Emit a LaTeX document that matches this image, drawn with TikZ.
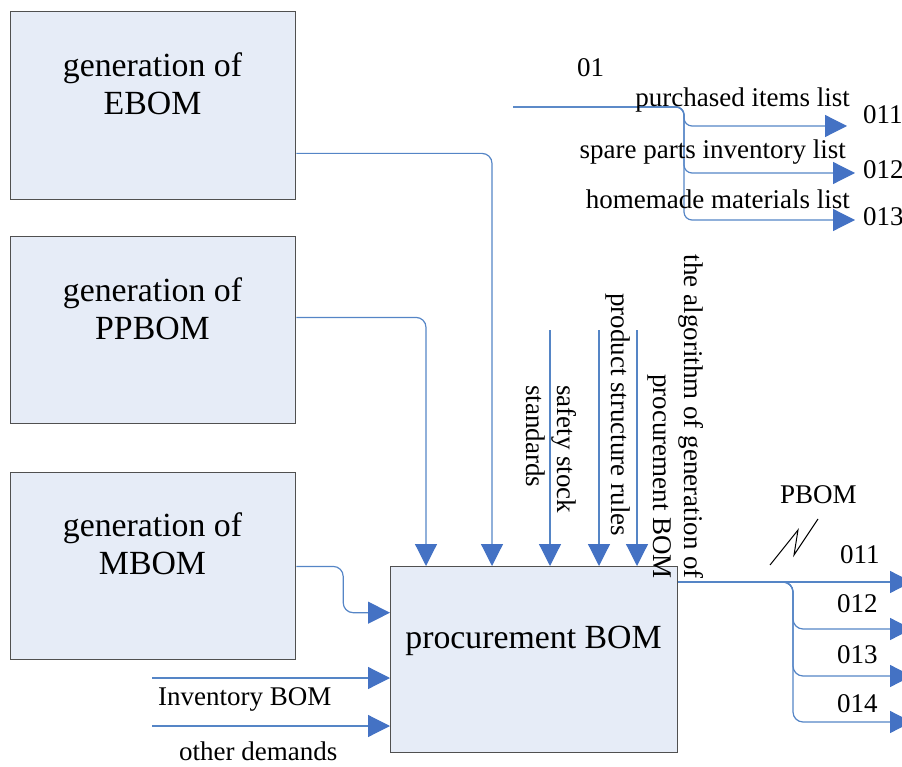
\documentclass[tikz,border=0pt]{standalone}
\usepackage{fontspec}
\setmainfont{Liberation Serif}
\usetikzlibrary{arrows.meta,calc}
\definecolor{boxfill}{HTML}{E6ECF7}
\definecolor{boxline}{HTML}{505050}
\definecolor{wire}{HTML}{5585C6}
\definecolor{tipblue}{HTML}{4472C4}
\begin{document}
\begin{tikzpicture}[x=1pt,y=-1pt,
  blk/.style={draw=boxline,fill=boxfill,line width=1.4pt,minimum width=285pt,
    minimum height=188pt,inner sep=0pt,anchor=north west},
  big/.style={font=\fontsize{33.8}{38}\selectfont,align=center,inner sep=0pt},
  lbl/.style={font=\fontsize{27}{31}\selectfont,inner sep=0pt},
  wireline/.style={draw=wire,line width=1.2pt,rounded corners=10pt},
  arr/.style={wireline,-{Triangle[length=22pt,width=22pt,color=tipblue]}},
]
\useasboundingbox (0,0) rectangle (902,767);
\clip (0,0) rectangle (902,767);

% process boxes
\node[blk] (ebom) at (10,11) {};
\node[blk,minimum height=187pt] (ppbom) at (10,236) {};
\node[blk,minimum height=187pt] (mbom) at (10,472) {};
\node[blk,minimum width=287pt,minimum height=186pt] (proc) at (390,566) {};

\node[big] (ebomtxt) at (152.5,84) {generation of\\EBOM};
\node[big] (ppbomtxt) at (152.5,309) {generation of\\PPBOM};
\node[big] (mbomtxt) at (152.5,544) {generation of\\MBOM};
\node[big,anchor=base] (proctxt) at (533.5,648) {procurement BOM};

% inputs from the generation boxes
\draw[arr] ([yshift=47pt]ebom.south east) -| ([xshift=102pt]proc.north west);
\draw[arr] ([yshift=107pt]ppbom.south east) -| ([xshift=36pt]proc.north west);
\coordinate (m0) at ([yshift=94pt]mbom.south east);
\coordinate (mIn) at ([yshift=47pt]proc.west);
\draw[arr] (m0) -| ($(m0)!.5!(mIn)$) |- (mIn);

% other inputs
\coordinate (invA) at (152,678);
\coordinate (othA) at (152,726);
\draw[arr] (invA) -- (invA -| proc.west);
\draw[arr] (othA) -- (othA -| proc.west);
\node[lbl,anchor=base west] (invtxt) at (158,705) {Inventory BOM};
\node[lbl,anchor=base west] (othtxt) at (179,760) {other demands};

% controls
\coordinate (ssA) at (550,330);
\coordinate (psA) at (599,330);
\coordinate (alA) at (637,330);
\draw[arr] (ssA) -- (ssA |- proc.north);
\draw[arr] (psA) -- (psA |- proc.north);
\draw[arr] (alA) -- (alA |- proc.north);
\node[lbl,rotate=-90,align=left,anchor=west] (sstxt) at (551,385) {safety stock\\standards};
\node[lbl,rotate=-90,anchor=west] (pstxt) at (618,293) {product structure rules};
\node[lbl,rotate=-90,align=right,anchor=east] (altxt) at (676,579)
  {the algorithm of generation of\\procurement BOM};

% outputs
\coordinate (pOut) at ([yshift=-16pt]proc.north east);
\coordinate (pBr) at (793,0);
\coordinate (o1) at (912,582);
\coordinate (o2) at (912,629);
\coordinate (o3) at (912,676);
\coordinate (o4) at (912,722);
\draw[arr] (pOut) -- (o1);
\draw[arr] (pOut) -| (o2 -| pBr) -- (o2);
\draw[arr] (pOut) -| (o3 -| pBr) -- (o3);
\draw[arr] (pOut) -| (o4 -| pBr) -- (o4);
\node[lbl,anchor=base west] (pbomtxt) at (780,503) {PBOM};
\draw[black,line width=1pt] (770,565) -- (798,530) -- (794,555) -- (818,519);
\node[lbl,anchor=base west] (q1) at (840,563) {011};
\node[lbl,anchor=base west] (q2) at (837,612) {012};
\node[lbl,anchor=base west] (q3) at (837,663) {013};
\node[lbl,anchor=base west] (q4) at (837,712) {014};

% decomposition of 01
\coordinate (in01) at (513,107);
\coordinate (br01) at (684,0);
\coordinate (t1) at (847,126);
\coordinate (t2) at (855,173);
\coordinate (t3) at (855,220);
\draw[arr,rounded corners=8pt] (in01) -| (t1 -| br01) -- (t1);
\draw[arr,rounded corners=8pt] (in01) -| (t2 -| br01) -- (t2);
\draw[arr,rounded corners=8pt] (in01) -| (t3 -| br01) -- (t3);
\node[lbl,anchor=base west] (l01) at (577,77) {01};
\node[lbl,anchor=base east] (lpur) at (850,107) {purchased items list};
\node[lbl,anchor=base east] (lspa) at (846,159) {spare parts inventory list};
\node[lbl,anchor=base east] (lhom) at (850,209) {homemade materials list};
\node[lbl,anchor=base west] (l011) at (863,124) {011};
\node[lbl,anchor=base west] (l012) at (863,179) {012};
\node[lbl,anchor=base west] (l013) at (863,226) {013};
\end{tikzpicture}
\end{document}
